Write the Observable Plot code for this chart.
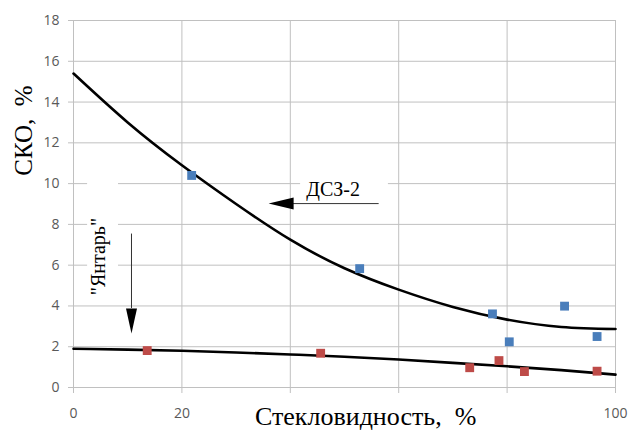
<!DOCTYPE html>
<html>
<head>
<meta charset="utf-8">
<script src="https://cdn.jsdelivr.net/npm/d3@7"></script>
<script src="https://cdn.jsdelivr.net/npm/@observablehq/plot@0.6"></script>
<style>
  html, body { margin: 0; padding: 0; background: #ffffff; }
</style>
</head>
<body>
<div id="chart"></div>
<script>
// ---- Data ----
const xTicks = [0, 20, 40, 60, 80, 100];
const xTickLabels = ["0", "20", "", "", "", "100"];
const yTicks = [0, 2, 4, 6, 8, 10, 12, 14, 16, 18];

// ДСЗ-2 (blue squares)
const blueX = [21.8, 52.8, 77.3, 80.4, 90.6, 96.6];
const blueY = [10.4, 5.83, 3.61, 2.24, 3.99, 2.5];
// "Янтарь" (red squares)
const redX = [13.6, 45.6, 73.1, 78.5, 83.2, 96.6];
const redY = [1.81, 1.68, 0.97, 1.32, 0.78, 0.80];

// Trend curves read at regular x positions
const curveX = [0, 10, 20, 30, 40, 50, 60, 70, 80, 90, 100];
const upperY = [15.4, 13.0, 10.9, 9.0, 7.25, 5.85, 4.8, 3.95, 3.33, 2.97, 2.87];
const lowerY = [1.9, 1.86, 1.80, 1.72, 1.62, 1.51, 1.37, 1.21, 1.04, 0.85, 0.63];

// Text
const xTitle = "Стекловидность,  %";
const yTitle = "СКО,  %";
const dszLabel = "ДСЗ-2";
const yantarLabel = "\"Янтарь\"";

// Annotation anchors (data units)
const dszLabelPos = {x: 47.9, y: 9.73};
const dszBox = {x1: 41.9, x2: 58.1, y1: 9.26, y2: 10.44};
const dszArrow = {x1: 56.3, x2: 40.0, y: 9.02, tipX: 36.0};
const yantarLabelPos = {x: 4.6, y: 6.42};
const yantarBox = {x1: 2.6, x2: 8.3, y1: 4.5, y2: 10.34};
const yantarArrow = {x: 10.7, y1: 7.55, y2: 3.9, tipY: 2.65};
const xTitleX = 53.9;
const yTitleY = 12.6;

// ---- Build ----
const blue = blueX.map((x, i) => ({x, y: blueY[i]}));
const red = redX.map((x, i) => ({x, y: redY[i]}));
const upper = curveX.map((x, i) => ({x, y: upperY[i]}));
const lower = curveX.map((x, i) => ({x, y: lowerY[i]}));
const xLabelMap = new Map(xTicks.map((t, i) => [t, xTickLabels[i]]));

// Filled arrowheads (tip at the origin)
const headLeft = {draw(ctx) { ctx.moveTo(0, 0); ctx.lineTo(25, -6); ctx.lineTo(25, 6); ctx.closePath(); }};
const headDown = {draw(ctx) { ctx.moveTo(0, 0); ctx.lineTo(-5.5, -25); ctx.lineTo(5.5, -25); ctx.closePath(); }};

const serif = "'Liberation Serif', 'Times New Roman', serif";

const chart = Plot.plot({
  width: 629,
  height: 432,
  marginLeft: 73,
  marginRight: 14,
  marginTop: 20,
  marginBottom: 45,
  style: {fontFamily: "'Open Sans', sans-serif", fontSize: "14px", color: "#595959", background: "#ffffff"},
  x: {domain: [0, 100], ticks: xTicks, tickFormat: d => xLabelMap.get(d), tickSize: 6, tickPadding: 15, label: null},
  y: {domain: [0, 18], ticks: yTicks, tickSize: 5, tickPadding: 9, label: null},
  marks: [
    Plot.ruleX(xTicks, {stroke: "#c0c0c0", strokeWidth: 1}),
    Plot.ruleY(yTicks, {stroke: "#c0c0c0", strokeWidth: 1}),
    // white label backgrounds
    Plot.rect([dszBox, yantarBox], {x1: "x1", x2: "x2", y1: "y1", y2: "y2", fill: "#ffffff"}),
    // trend curves
    Plot.line(upper, {x: "x", y: "y", stroke: "#000000", strokeWidth: 2.6, curve: "natural"}),
    Plot.line(lower, {x: "x", y: "y", stroke: "#000000", strokeWidth: 2.6, curve: "natural"}),
    // data points
    Plot.dot(blue, {x: "x", y: "y", symbol: "square", r: 5, fill: "#4a7ebb", stroke: null}),
    Plot.dot(red, {x: "x", y: "y", symbol: "square", r: 5, fill: "#be4b48", stroke: null}),
    // arrows
    Plot.link([dszArrow], {x1: "x1", x2: "x2", y1: "y", y2: "y", stroke: "#333333", strokeWidth: 1}),
    Plot.dot([dszArrow], {x: "tipX", y: "y", symbol: headLeft, fill: "#000000", stroke: null}),
    Plot.link([yantarArrow], {x1: "x", x2: "x", y1: "y1", y2: "y2", stroke: "#333333", strokeWidth: 1}),
    Plot.dot([yantarArrow], {x: "x", y: "tipY", symbol: headDown, fill: "#000000", stroke: null}),
    // annotation labels
    Plot.text([dszLabel], {text: d => d, x: () => dszLabelPos.x, y: () => dszLabelPos.y, fontFamily: serif, fontSize: 20, fill: "#000000"}),
    Plot.text([yantarLabel], {text: d => d, x: () => yantarLabelPos.x, y: () => yantarLabelPos.y, rotate: -90, fontFamily: serif, fontSize: 20, fill: "#000000"}),
    // axis titles
    Plot.text([xTitle], {text: d => d, x: () => xTitleX, frameAnchor: "bottom", textAnchor: "middle", dy: 37, fontFamily: serif, fontSize: 26, fill: "#000000"}),
    Plot.text([yTitle], {text: d => d, y: () => yTitleY, frameAnchor: "left", textAnchor: "middle", dx: -50, rotate: -90, fontFamily: serif, fontSize: 25, fill: "#000000"})
  ]
});

d3.select(chart).selectAll('g[aria-label*="axis"] path, g[aria-label*="axis"] line').attr("stroke", "#c0c0c0");
document.getElementById("chart").appendChild(chart);
</script>
</body>
</html>
